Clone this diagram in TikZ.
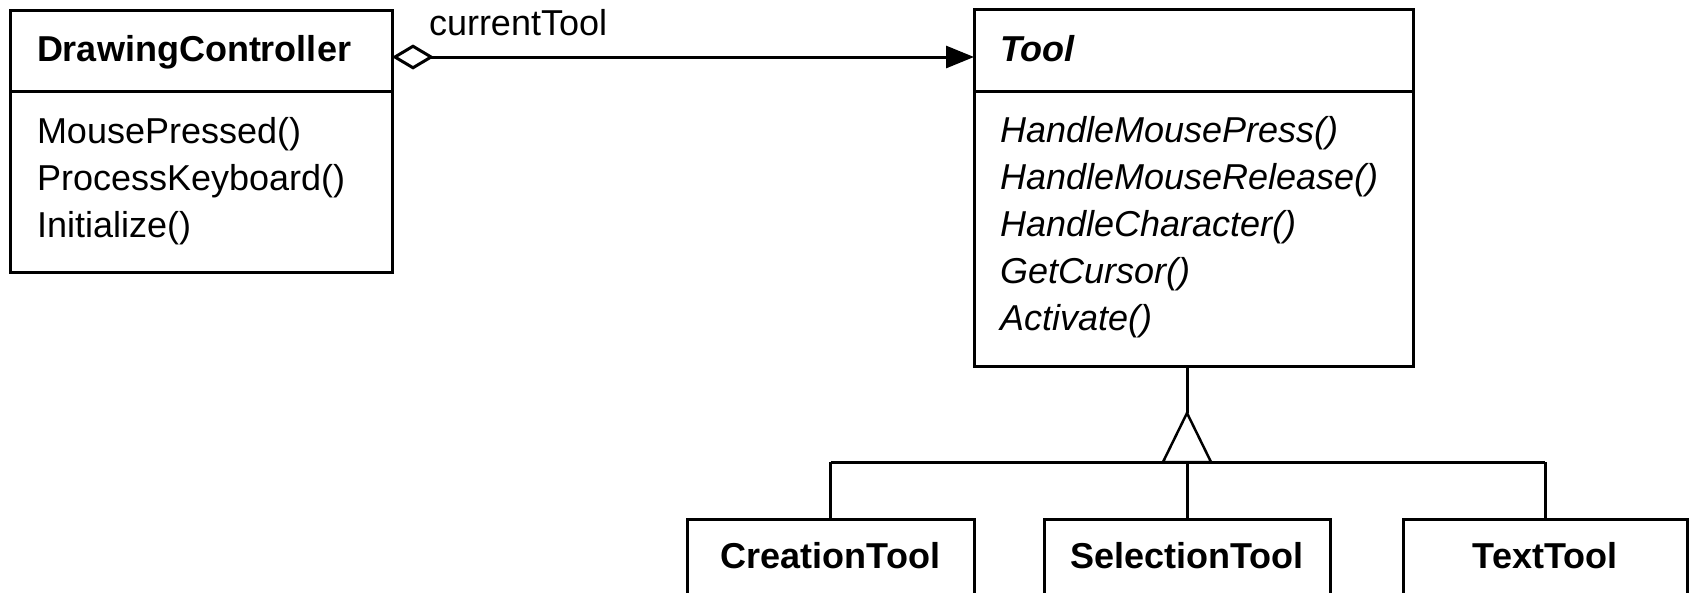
\documentclass[tikz,border=0pt]{standalone}
\usepackage{fontspec}
\setmainfont{Liberation Sans}
\usetikzlibrary{arrows.meta}
\begin{document}
\begin{tikzpicture}[x=1pt,y=-1pt,
  cls/.style={draw, line width=3pt, rectangle, inner sep=0pt, outer sep=0pt, anchor=north west},
  lbl/.style={anchor=base west, inner sep=0pt, outer sep=0pt, font=\fontsize{36}{43}\selectfont},
  clsname/.style={lbl, font=\fontsize{36}{43}\selectfont\bfseries},
  absname/.style={lbl, font=\fontsize{36}{43}\selectfont\bfseries\itshape},
  absop/.style={lbl, font=\fontsize{36}{43}\selectfont\itshape},
  divider/.style={line width=3pt},
  conn/.style={line width=3pt},
  gen/.style={line width=2.5pt, line join=miter}]
\useasboundingbox (0,0) rectangle (1690,592);
\clip (0,0) rectangle (1690,592);

% DrawingController
\node[cls, minimum width=382pt, minimum height=262pt] (dc) at (10,10) {};
\draw[divider] (10,91) -- (392,91);
\node[clsname] (dcname) at (37,61) {DrawingController};
\node[lbl] (dcop1) at (37,143) {MousePressed()};
\node[lbl] (dcop2) at (37,190) {ProcessKeyboard()};
\node[lbl] (dcop3) at (37,237) {Initialize()};

% Tool
\node[cls, minimum width=439pt, minimum height=357pt] (tool) at (974,9) {};
\draw[divider] (974,91) -- (1413,91);
\node[absname] (toolname) at (1000,61) {Tool};
\node[absop] (top1) at (1000,142) {HandleMousePress()};
\node[absop] (top2) at (1000,189) {HandleMouseRelease()};
\node[absop] (top3) at (1000,236) {HandleCharacter()};
\node[absop] (top4) at (1000,283) {GetCursor()};
\node[absop] (top5) at (1000,330) {Activate()};

% subclasses (bottoms cut off by the picture edge)
\node[cls, minimum width=287pt, minimum height=140pt] (ct) at (687,519) {};
\node[cls, minimum width=286pt, minimum height=140pt] (sel) at (1044,519) {};
\node[cls, minimum width=284pt, minimum height=140pt] (tt) at (1403,519) {};
\node[clsname, anchor=base] (ctname) at (830.5,568) {CreationTool};
\node[clsname, anchor=base] (selname) at (1187,568) {SelectionTool};
\node[clsname, anchor=base] (ttname) at (1545,568) {TextTool};

% aggregation
\coordinate (aggy) at (0,57);
\draw[conn, {Diamond[open,length=42pt,width=25pt,line width=3pt]}-{Triangle[length=28pt,width=22pt]}]
  (dc.east |- aggy) -- (tool.west |- aggy);
\node[lbl] (aggname) at (429,35) {currentTool};

% generalization
\coordinate (bar) at (0,462);
\coordinate (apex) at (1187,413);
\draw[conn] (tool.south -| sel.north) -- (apex);
\draw[gen] (apex) -- (1163,462) -- (1211,462) -- cycle;
\draw[conn] (ct.north |- bar) -- (tt.north |- bar);
\draw[conn] (ct.north |- bar) -- (ct.north);
\draw[conn] (sel.north |- bar) -- (sel.north);
\draw[conn] (tt.north |- bar) -- (tt.north);
\end{tikzpicture}
\end{document}
